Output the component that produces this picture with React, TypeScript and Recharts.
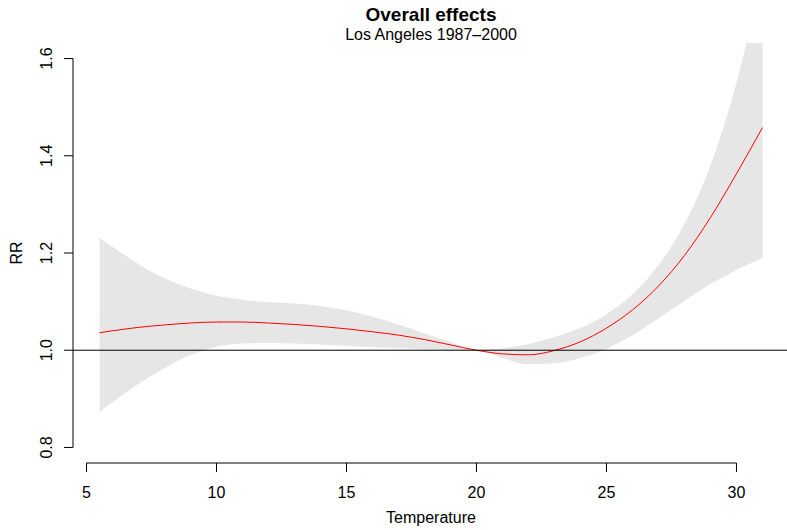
import React from 'react';
import { ComposedChart, Area, Line, XAxis, YAxis, ReferenceLine, Label } from 'recharts';

// temperature grid (x) and the overall cumulative RR with its 95% band
const temps = [5.5, 6, 7, 8, 9, 10, 11, 12, 13, 14, 15, 16, 17, 18, 19, 20, 21, 22, 23, 24, 25, 26, 27, 28, 29, 30, 31];
const rr = [1.036, 1.04, 1.047, 1.052, 1.056, 1.058, 1.058, 1.056, 1.053, 1.049, 1.044, 1.038, 1.031, 1.022, 1.011, 1.0, 0.9925, 0.9905, 0.9995, 1.0175, 1.0455, 1.083, 1.132, 1.195, 1.273, 1.363, 1.458];
const rrLow = [0.873, 0.893, 0.931, 0.963, 0.99, 1.007, 1.014, 1.015, 1.014, 1.012, 1.009, 1.006, 1.004, 1.002, 1.001, 1.0, 0.984, 0.971, 0.973, 0.984, 1.003, 1.031, 1.066, 1.102, 1.136, 1.165, 1.189];
const rrHigh = [1.231, 1.213, 1.177, 1.148, 1.127, 1.112, 1.104, 1.099, 1.096, 1.091, 1.082, 1.069, 1.053, 1.035, 1.017, 1.0, 1.004, 1.013, 1.027, 1.046, 1.074, 1.115, 1.175, 1.26, 1.38, 1.55, 1.78];

const xTicks = [5, 10, 15, 20, 25, 30];
const yTicks = [0.8, 1.0, 1.2, 1.4, 1.6];

// R-style axis ranges (data range + 4%)
const xDomain: [number, number] = [4.48, 32.02];
const yDomain: [number, number] = [0.768, 1.632];

const data = temps.map((t, i) => ({ t, rr: rr[i], band: [rrLow[i], rrHigh[i]] }));

const FONT = '"Liberation Sans", Arial, Helvetica, sans-serif';

const XTick = (props: any) => {
  const { x, y, payload } = props;
  return (
    <text x={x} y={y} dy="0.71em" textAnchor="middle" fontSize={16} fill="#000" fontFamily={FONT}>
      {payload.value}
    </text>
  );
};

const YTick = (props: any) => {
  const { x, y, payload } = props;
  return (
    <text x={x} y={y} transform={`rotate(-90 ${x} ${y})`} textAnchor="middle" fontSize={16} fill="#000" fontFamily={FONT}>
      {Number(payload.value).toFixed(1)}
    </text>
  );
};

const RRLabel = (props: any) => {
  const { viewBox } = props;
  const x = viewBox.x + 22;
  const y = viewBox.y + viewBox.height / 2;
  return (
    <text x={x} y={y} transform={`rotate(-90 ${x} ${y})`} textAnchor="middle" fontSize={16} fill="#000" fontFamily={FONT}>
      RR
    </text>
  );
};

const App: React.FC = () => {
  return (
    <div
      style={{
        position: 'absolute',
        left: 0,
        top: 0,
        width: 787,
        height: 530,
        overflow: 'hidden',
        background: '#fff',
        fontFamily: FONT,
      }}
    >
      {/* main title + subtitle, centred on the plot region */}
      <div style={{ position: 'absolute', left: 0, width: 862, top: 4.6, textAlign: 'center', fontSize: 19, lineHeight: '19px', fontWeight: 'bold' }}>
        Overall effects
      </div>
      <div style={{ position: 'absolute', left: 0, width: 862, top: 26.5, textAlign: 'center', fontSize: 16, lineHeight: '16px' }}>
        Los Angeles 1987–2000
      </div>

      <ComposedChart width={800} height={530} data={data} margin={{ top: 43, right: 11, left: 0, bottom: 0 }}>
        <XAxis
          dataKey="t"
          type="number"
          domain={xDomain}
          allowDataOverflow
          ticks={xTicks}
          axisLine={false}
          tickLine={{ stroke: '#000' }}
          stroke="#000"
          tickSize={9}
          tickMargin={15}
          tick={<XTick />}
          height={67}
        >
          <Label value="Temperature" position="insideBottom" offset={7} fontSize={16} fill="#000" />
        </XAxis>
        <YAxis
          type="number"
          domain={yDomain}
          allowDataOverflow
          ticks={yTicks}
          axisLine={false}
          tickLine={{ stroke: '#000' }}
          stroke="#000"
          tickSize={9}
          tickMargin={12}
          tick={<YTick />}
          width={73}
        >
          <Label content={<RRLabel />} />
        </YAxis>

        {/* confidence band */}
        <Area dataKey="band" type="monotone" fill="#e6e6e6" fillOpacity={1} stroke="none" isAnimationActive={false} />
        {/* overall RR curve */}
        <Line dataKey="rr" type="monotone" stroke="#ff0000" strokeWidth={1} dot={false} isAnimationActive={false} />

        <ReferenceLine y={1} stroke="#000" strokeWidth={1} />
        {/* R-style axis lines that only span the ticks */}
        <ReferenceLine segment={[{ x: 5, y: yDomain[0] }, { x: 30, y: yDomain[0] }]} stroke="#000" ifOverflow="visible" />
        <ReferenceLine segment={[{ x: xDomain[0], y: 0.8 }, { x: xDomain[0], y: 1.6 }]} stroke="#000" ifOverflow="visible" />
      </ComposedChart>
    </div>
  );
};

export default App;
